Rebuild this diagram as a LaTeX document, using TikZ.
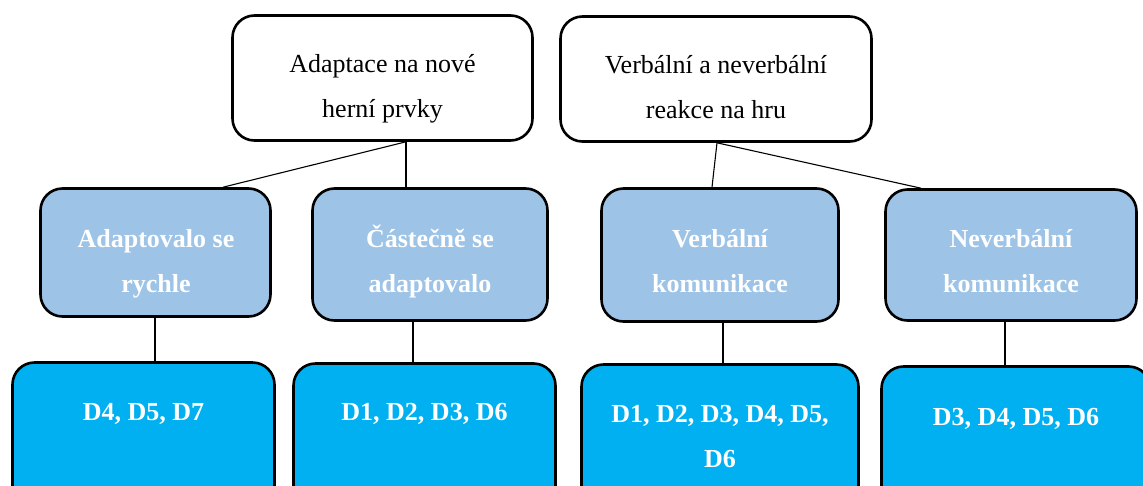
\documentclass[tikz,border=0pt]{standalone}
\usepackage{fontspec}
\setmainfont{Liberation Serif}
\usepackage{tikz}
\usetikzlibrary{positioning}
\definecolor{midblue}{HTML}{9DC3E6}
\definecolor{botblue}{HTML}{00B0F0}
\tikzset{every picture/.style={x=1pt,y=1pt,line width=1.1pt}}

\begin{document}
\begin{tikzpicture}[bx/.style={draw,line width=2.6pt,rounded corners=22pt,inner sep=0pt},tb/.style={bx,fill=white},mb/.style={bx,fill=midblue},db/.style={bx,fill=botblue},tt/.style={align=center,anchor=base,font=\fontsize{26}{45}\selectfont},wt/.style={tt,text=white,font=\fontsize{26}{45}\selectfont\bfseries}]
\useasboundingbox (0,0) rectangle (1143,-485);
\clip (0,0) rectangle (1143,-485);
% top row
\node (adapt) [tb,minimum width=300pt,minimum height=125pt] at (382.5,-78) {};
\node (react) [tb,minimum width=311pt,minimum height=125pt] at (716,-79) {};
% middle row
\node (fast) [mb,minimum width=230pt,minimum height=128pt] at (155.5,-252.5) {};
\node (part) [mb,minimum width=235pt,minimum height=132pt] at (430,-254.5) {};
\node (verb) [mb,minimum width=237pt,minimum height=133pt] at (720,-255) {};
\node (nonv) [mb,minimum width=251pt,minimum height=131pt] at (1011,-255) {};
% bottom row
\node (g1) [db,minimum width=262pt,minimum height=146pt] at (143.5,-435.5) {};
\node (g2) [db,minimum width=262pt,minimum height=146pt] at (424.5,-436.5) {};
\node (g3) [db,minimum width=277pt,minimum height=146pt] at (720,-437.5) {};
\node (g4) [db,minimum width=269pt,minimum height=146pt] at (1016,-439.5) {};
% texts (base = last line)
\node (adapt-t) [tt] at (382.5,-117) {Adaptace na nové\\herní prvky};
\node (react-t) [tt] at (716,-118) {Verbální a neverbální\\reakce na hru};
\node (fast-t) [wt] at (156,-292) {Adaptovalo se\\rychle};
\node (part-t) [wt] at (430,-292) {Částečně se\\adaptovalo};
\node (verb-t) [wt] at (720,-292) {Verbální\\komunikace};
\node (nonv-t) [wt] at (1011,-292) {Neverbální\\komunikace};
\node (g1-t) [wt] at (143.5,-420) {D4, D5, D7};
\node (g2-t) [wt] at (424.5,-420) {D1, D2, D3, D6};
\node (g3-t) [wt] at (720,-467) {D1, D2, D3, D4, D5,\\D6};
\node (g4-t) [wt] at (1016,-425) {D3, D4, D5, D6};
% links
\draw ([xshift=23.5pt]adapt.south) -- ([xshift=67.5pt]fast.north);
\draw ([xshift=23.5pt]adapt.south) -- ([xshift=-24pt]part.north);
\draw ([xshift=1pt]react.south) -- ([xshift=-8pt]verb.north);
\draw ([xshift=1pt]react.south) -- ([xshift=-90pt]nonv.north);
\draw ([xshift=-0.5pt]fast.south) -- ([xshift=11.5pt]g1.north);
\draw ([xshift=-17pt]part.south) -- ([xshift=-11.5pt]g2.north);
\draw ([xshift=3pt]verb.south) -- ([xshift=3pt]g3.north);
\draw ([xshift=-6pt]nonv.south) -- ([xshift=-11pt]g4.north);
\end{tikzpicture}
\end{document}
